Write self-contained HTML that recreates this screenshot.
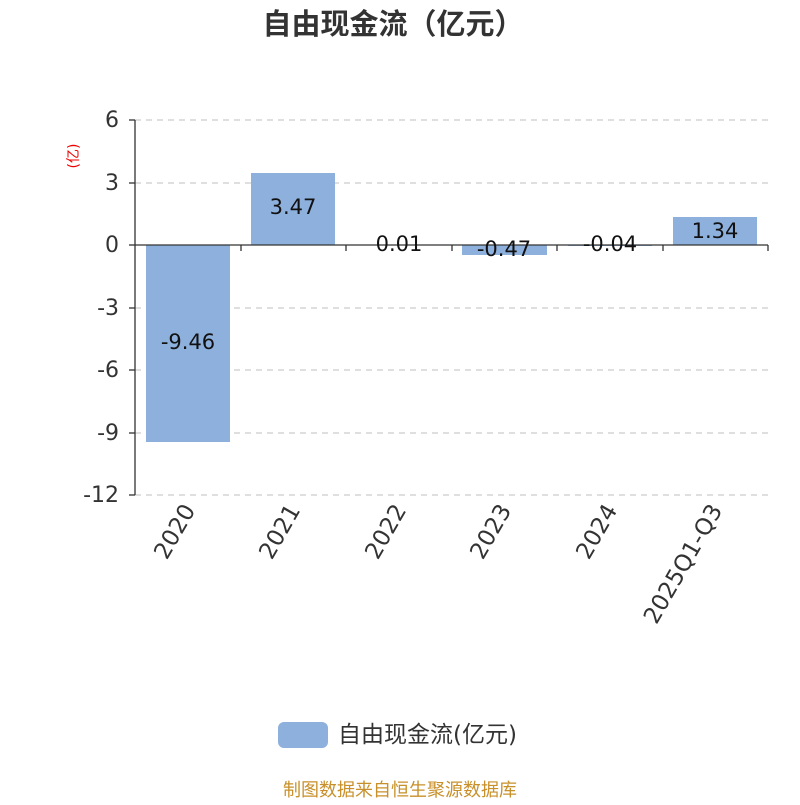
<!DOCTYPE html>
<html><head><meta charset="utf-8"><style>body{margin:0;background:#fff}</style></head><body>
<svg width="800" height="800" xmlns="http://www.w3.org/2000/svg" font-family="DejaVu Sans, Noto Sans CJK SC, sans-serif">
<rect width="800" height="800" fill="#fff"/>
<text x="393" y="34" text-anchor="middle" font-size="29" font-weight="bold" fill="#333">自由现金流（亿元）</text>
<text x="78" y="156" text-anchor="middle" font-size="14" fill="#e00" transform="rotate(-90 78 156)">(亿)</text>
<g stroke="#ccc" stroke-dasharray="6,5" stroke-width="1.3">
<line x1="135" x2="768" y1="120" y2="120"/><line x1="135" x2="768" y1="183" y2="183"/>
<line x1="135" x2="768" y1="308" y2="308"/><line x1="135" x2="768" y1="370" y2="370"/>
<line x1="135" x2="768" y1="433" y2="433"/><line x1="135" x2="768" y1="495" y2="495"/>
</g>
<g fill="#8eb0dc">
<rect x="146" y="245" width="84" height="197"/>
<rect x="251" y="173" width="84" height="72"/>
<rect x="462" y="245" width="85" height="10"/>
<rect x="568" y="245" width="84" height="1"/>
<rect x="673" y="217" width="84" height="28"/>
</g>
<g stroke="#333" stroke-width="1.3">
<line x1="135" x2="135" y1="120" y2="495"/>
<line x1="135" x2="768" y1="245" y2="245"/>
<line x1="129" x2="135" y1="120" y2="120"/><line x1="129" x2="135" y1="183" y2="183"/>
<line x1="129" x2="135" y1="245" y2="245"/><line x1="129" x2="135" y1="308" y2="308"/>
<line x1="129" x2="135" y1="370" y2="370"/><line x1="129" x2="135" y1="433" y2="433"/>
<line x1="129" x2="135" y1="495" y2="495"/>
<line x1="241" x2="241" y1="245" y2="251"/><line x1="346" x2="346" y1="245" y2="251"/>
<line x1="452" x2="452" y1="245" y2="251"/><line x1="557" x2="557" y1="245" y2="251"/>
<line x1="663" x2="663" y1="245" y2="251"/><line x1="768" x2="768" y1="245" y2="251"/>
</g>
<g font-size="22" fill="#333" text-anchor="end">
<text x="119" y="127">6</text><text x="119" y="190">3</text><text x="119" y="252">0</text>
<text x="119" y="315">-3</text><text x="119" y="377">-6</text><text x="119" y="440">-9</text>
<text x="119" y="502">-12</text>
</g>
<g font-size="21" fill="#111" text-anchor="middle">
<text x="188" y="349">-9.46</text><text x="293" y="214">3.47</text>
<text x="399" y="251">0.01</text><text x="504" y="256">-0.47</text>
<text x="610" y="251">-0.04</text><text x="715" y="238">1.34</text>
</g>
<g font-size="23" fill="#333" text-anchor="end">
<text transform="translate(196,510) rotate(-60)">2020</text>
<text transform="translate(301,510) rotate(-60)">2021</text>
<text transform="translate(407,510) rotate(-60)">2022</text>
<text transform="translate(512,510) rotate(-60)">2023</text>
<text transform="translate(618,510) rotate(-60)">2024</text>
<text transform="translate(723,510) rotate(-60)">2025Q1-Q3</text>
</g>
<rect x="278" y="722" width="50" height="26" rx="6" fill="#8eb0dc"/>
<text x="338" y="742" font-size="23" fill="#333">自由现金流(亿元)</text>
<text x="400" y="796" text-anchor="middle" font-size="18" fill="#c8902a">制图数据来自恒生聚源数据库</text>
</svg>
</body></html>
